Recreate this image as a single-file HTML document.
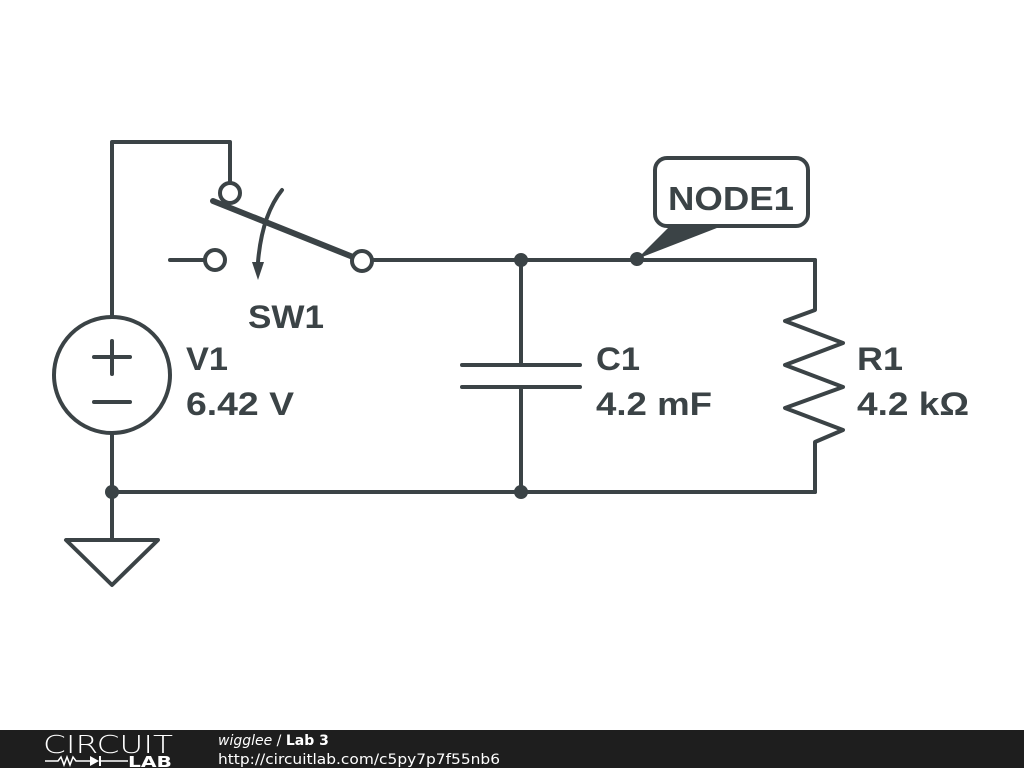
<!DOCTYPE html>
<html><head><style>
html,body{margin:0;padding:0;background:#fff;}
body{width:1024px;height:768px;position:relative;overflow:hidden;font-family:"Liberation Sans",sans-serif;}
</style></head><body>
<svg width="1024" height="768" style="position:absolute;left:0;top:0">
<g stroke="#3b4346" stroke-width="4" fill="none" stroke-linecap="round" stroke-linejoin="round">
<polyline points="112,317 112,142 230,142 230,183"/>
<circle cx="230" cy="193" r="10" fill="#fff"/>
<line x1="213" y1="201" x2="353" y2="257" stroke-width="6"/>
<circle cx="362" cy="261" r="10" fill="#fff"/>
<line x1="372" y1="260" x2="815" y2="260"/>
<line x1="170" y1="260" x2="205" y2="260"/>
<circle cx="215" cy="260" r="10" fill="#fff"/>
<path d="M282,190 Q262,215 258,262"/>
<circle cx="112" cy="375" r="58"/>
<line x1="112" y1="341" x2="112" y2="374"/>
<line x1="94" y1="357" x2="130" y2="357"/>
<line x1="94" y1="402" x2="130" y2="402"/>
<polyline points="112,433 112,540"/>
<polygon points="66,540 158,540 112,585"/>
<line x1="112" y1="492" x2="815" y2="492"/>
<line x1="521" y1="260" x2="521" y2="365"/>
<line x1="521" y1="387" x2="521" y2="492"/>
<line x1="462" y1="365" x2="580" y2="365"/>
<line x1="462" y1="387" x2="580" y2="387"/>
<polyline points="815,260 815,310 785,321 843,343 785,365 843,387 785,408 843,430 815,442 815,492"/>
<rect x="655" y="158" width="153" height="68" rx="12" fill="#fff"/>
</g>
<polygon points="252,262 264,262 258,280" fill="#3b4346"/>
<polygon points="670,226 722,226 637,259" fill="#3b4346"/>
<circle cx="521" cy="260" r="7" fill="#3b4346"/>
<circle cx="521" cy="492" r="7" fill="#3b4346"/>
<circle cx="112" cy="492" r="7" fill="#3b4346"/>
<circle cx="637" cy="259" r="7" fill="#3b4346"/>
<g fill="#3b4346" font-family="Liberation Sans, sans-serif" font-weight="bold" font-size="32" lengthAdjust="spacingAndGlyphs">
<text x="248" y="328" textLength="76" lengthAdjust="spacingAndGlyphs">SW1</text>
<text x="186" y="370" textLength="42" lengthAdjust="spacingAndGlyphs">V1</text>
<text x="186" y="415" textLength="108" lengthAdjust="spacingAndGlyphs">6.42 V</text>
<text x="596" y="370" textLength="44" lengthAdjust="spacingAndGlyphs">C1</text>
<text x="596" y="415" textLength="116" lengthAdjust="spacingAndGlyphs">4.2 mF</text>
<text x="857" y="370" textLength="46" lengthAdjust="spacingAndGlyphs">R1</text>
<text x="857" y="415" textLength="112" lengthAdjust="spacingAndGlyphs">4.2 kΩ</text>
<text x="668" y="210" font-size="33" textLength="126" lengthAdjust="spacingAndGlyphs">NODE1</text>
</g>
<rect x="0" y="730" width="1024" height="38" fill="#1e1e1e"/>
<text x="43" y="753" fill="#fff" font-size="25" font-family="DejaVu Sans, sans-serif" font-weight="200" textLength="130" lengthAdjust="spacingAndGlyphs">CIRCUIT</text>
<g stroke="#fff" stroke-width="1.5" fill="none">
<polyline points="45,761 58,761 61,757 64,765 67,757 70,765 73,757 76,761 90,761"/>
<line x1="100" y1="761" x2="128" y2="761"/>
</g>
<polygon points="90,756 90,766 99,761" fill="#fff"/>
<line x1="100" y1="756" x2="100" y2="766" stroke="#fff" stroke-width="2"/>
<text x="128" y="767" fill="#fff" font-size="15" font-weight="bold" font-family="DejaVu Sans, sans-serif" textLength="44" lengthAdjust="spacingAndGlyphs">LAB</text>
<text x="218" y="745" fill="#fff" font-size="14" font-family="DejaVu Sans, sans-serif"><tspan font-style="italic">wigglee</tspan> / <tspan font-weight="bold">Lab 3</tspan></text>
<text x="218" y="764" fill="#fff" font-size="14" font-family="DejaVu Sans, sans-serif" textLength="282" lengthAdjust="spacingAndGlyphs">http://circuitlab.com/c5py7p7f55nb6</text>
</svg>
</body></html>
